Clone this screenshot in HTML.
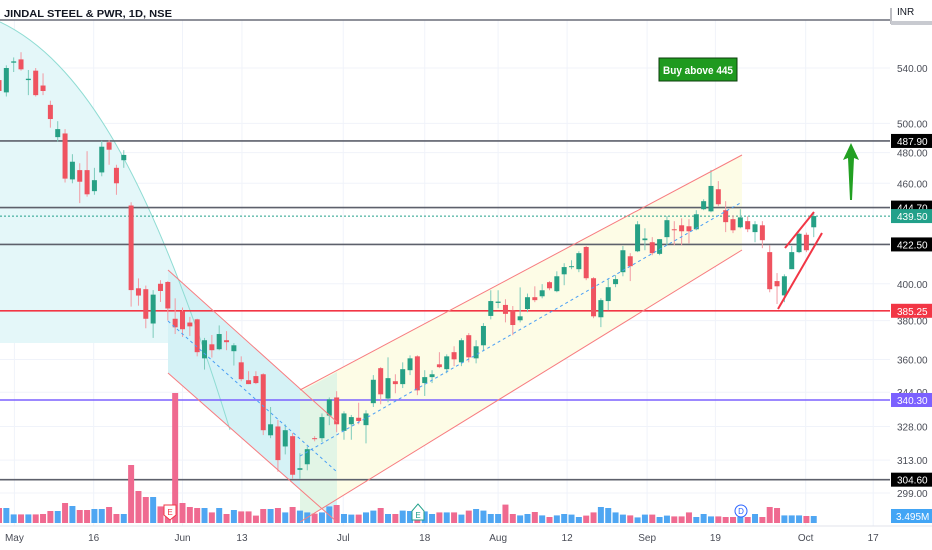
<!DOCTYPE html>
<html><head><meta charset="utf-8"><style>
html,body{margin:0;padding:0;background:#fff;}
svg{display:block;font-family:"Liberation Sans",sans-serif;}
</style></head><body>
<svg id="chart" width="932" height="550" viewBox="0 0 932 550" xmlns="http://www.w3.org/2000/svg">
<rect x="0" y="0" width="932" height="550" fill="#ffffff"/>
<g id="grid"></g>
<path d="M0,22 C80,60 150,170 230,430 L0,430 Z" fill="#e4f7f9" clip-path="url(#arcclip)"/>
<clipPath id="arcclip"><rect x="0" y="0" width="890" height="343"/></clipPath>
<polygon points="168,270 337,422 337,522 168,373" fill="#d5f2f6"/>
<polygon points="300,390 742,155 742,250 300,522" fill="#fdfce6"/>
<polygon points="300,392 337,372 337,500 300,522" fill="#e2f5e6"/>
<path d="M0,22 C80,60 150,170 230,430" fill="none" stroke="#8fdcd3" stroke-width="1"/>
<g id="hlines"></g>
<g id="vol"></g>
<g id="candles"></g>
<g>
<line x1="168" y1="270" x2="337" y2="422" stroke="#f77c80" stroke-width="1"/>
<line x1="168" y1="373" x2="337" y2="522" stroke="#f77c80" stroke-width="1"/>
<line x1="168" y1="321" x2="337" y2="472" stroke="#4a9ff5" stroke-width="1" stroke-dasharray="3,3"/>
</g>
<g>
<line x1="300" y1="390" x2="742" y2="155" stroke="#f77c80" stroke-width="1"/>
<line x1="300" y1="522" x2="742" y2="250" stroke="#f77c80" stroke-width="1"/>
<line x1="300" y1="456" x2="742" y2="202" stroke="#4a9ff5" stroke-width="1" stroke-dasharray="3,3"/>
</g>
<line x1="778" y1="309" x2="822" y2="233" stroke="#f23645" stroke-width="2"/>
<line x1="785" y1="248" x2="814" y2="212" stroke="#f23645" stroke-width="2"/>
<polygon points="851,143 859,160 854,158 852,200 850,200 848,158 843,160" fill="#22a022"/>
<g>
<rect x="659" y="58" width="78" height="23" fill="#1f9a1f" stroke="#0b3d0b" stroke-width="1"/>
<text x="698" y="74" text-anchor="middle" font-size="11" font-weight="bold" fill="#fff" textLength="70" lengthAdjust="spacingAndGlyphs">Buy above 445</text>
</g>
<text x="4" y="17" font-size="10" font-weight="bold" fill="#131722" textLength="168" lengthAdjust="spacingAndGlyphs">JINDAL STEEL &amp; PWR, 1D, NSE</text>
<g id="axis"></g>
<g id="taxis"></g>
<g>
<g><path d="M164,505 L176,505 L176,515 L170,520 L164,515 Z" fill="#fff" stroke="#f23645"/><text x="170" y="515" text-anchor="middle" font-size="8" fill="#f23645">E</text></g>
<g><path d="M412,511 L418,504 L424,511 L424,520 L412,520 Z" fill="#fff" stroke="#22a08a"/><text x="418" y="518" text-anchor="middle" font-size="8" fill="#22a08a">E</text></g>
<g><circle cx="741" cy="511" r="6" fill="#fff" stroke="#2962ff"/><text x="741" y="514" text-anchor="middle" font-size="8" fill="#2962ff">D</text></g>
</g>
</svg>
<script>
const opens=[531,522,544,546.5,531,538,527,513,490.5,493,462.5,468.5,468.5,455,467,487,470,475,446,397.5,397,378.5,400,401,381,385,379,380.7,360.6,367.7,365.2,369.8,364.2,358.6,349.8,351.8,352.7,324,328,319,323.6,308.8,311.2,322.7,322.7,333,341.5,326,329,332,328.6,338.8,355.7,341,349.3,347.9,354.7,361.6,348.4,351.3,357.6,355.2,363.7,358.6,372.4,360.6,367.2,382.5,389.5,388.4,385.6,380.2,386.2,392.6,393.1,400.9,395.9,405.3,409.4,408.2,421,403.1,381.8,390.5,399.8,406.5,415.6,418.5,425,423.8,417,426.8,431.5,433.9,433.3,431.5,443.7,442.4,456.2,443.1,437.6,432.7,436.4,429.8,433.9,418,401.5,393.6,408.2,418,428.2,432.7];
const highs=[534,542,548,552,538.5,540,536,516,501.5,496,479,473,481,470,488,488.5,472,481.7,448,403,399,396.5,402,401.5,392,387,382,381,371,372.5,377.5,374.5,368.3,361.6,354.2,354.2,353.2,337,331,329,325,316,319,323.6,334,341.5,344.5,335,333.3,339,335.5,352.3,356.2,361.1,352.7,358.6,362.1,362.1,354.7,354.7,363.7,362.6,366.7,370.8,373.5,369.8,378.7,396.4,396.4,391.5,387.8,398,394.6,398.6,399.8,401.5,407,411.6,413.3,418.5,421.6,403.7,392,402.6,404.8,421.6,417.4,436.4,432.1,426.8,425.6,439.5,436.4,438.1,437.6,443.1,449.9,468.6,461.4,448.7,440,443.7,439.3,436.4,436.4,422,406,405.3,421.6,429.5,429.5,441.2];
const lows=[519,519,537,538,520,519,520,497,487.5,460.5,460,447.5,451.5,452.7,464.5,472,452.7,470,387.5,388,376,371,390,380,373,371.5,372,361.6,355,361,364.7,364.7,357,349.3,347.9,347.9,324.1,322.7,308,315.5,305,305,308.6,321.3,321,328.6,325.4,322,322,329,320.4,337,338.3,339.2,343.5,346,352.3,342.6,342.2,348.4,355.7,353.2,356.7,356.7,358.6,358.1,364.2,380.7,386.6,379.1,372.4,379.1,384.5,389.9,392,396.4,395.3,399.2,408.2,406.5,402,381.3,376.6,385.6,398.1,404.2,401.5,418,419.1,416.2,416.2,422,422,422,423.2,430.9,443.1,441.8,445.6,429.8,429.2,432.1,429.8,423.8,420.3,395.3,388.9,389.9,408.2,417.4,418,426.8];
const closes=[523,540,545,539,532,520,523,503,496,463,474,461,453,462,484,482,460,478.5,396.5,393.5,381,394,396,386.5,376.5,375.5,377,363.7,369.8,364.7,373,368.8,367.2,350.3,347.9,348.4,326.3,329,313,326.3,306.7,309.5,317.8,322.3,332.3,340.6,329,334,332.3,330.5,334,350,343,350.8,347.9,355.2,360.6,344.9,351.3,352.7,356.2,361.6,360.1,369.8,361.1,366.7,377.2,390.5,390.2,383.6,377.7,382.3,392.6,391,396.4,397.5,404.2,409.4,409.9,417.4,403.1,382.3,391,398.1,402.6,419.1,409.9,434.5,426,417.4,425.6,437,430.9,430.3,430.3,440.6,448.7,458.3,446.8,435.8,430.9,438.7,431.5,434.5,425,397,398.6,404.2,418,428.8,419.1,439.5];
const volumes=[7.5,7.5,4.3,4.3,4.3,4.3,4.5,6,6,10,8.5,6.5,6.5,7,7,8,4.5,4.5,29,16,13,13,8.3,6,65,10,8,7.5,7.5,5.3,7.5,4.5,6.5,5.8,5.8,3.7,7,7,7.5,5.3,8,6.2,5.3,4.7,5.3,8.3,9,4.5,4.2,4.2,5.3,6.2,7.5,4.5,4.5,6.2,6,5.8,5.8,4.5,5.3,5.3,5.3,4.2,6.2,7,6.2,4.5,4.5,9.2,4.5,3.8,4.5,5.5,3.8,3,3.8,4.5,4.2,3,3.7,5.3,8,7.5,5.3,4.2,3.8,2.8,4.2,4.2,3,3.7,3.3,3.3,5.3,3,4.5,3.3,3.3,3,3,3,3,4.5,3,8,7.5,3.8,3.8,3.8,3.5,3.495];
const priceTicks=[540,500,480,460,400,380,360,344,328,313,299];
const timeLabels=["May","16","Jun","13","Jul","18","Aug","12","Sep","19","Oct","17"];
const timeIdx=[2.1,12.9,25,33.1,46.9,58,68,77.4,88.3,97.6,109.9,119.1];
const levelPrices=[487.90,444.70,439.50,422.50,385.25,340.30,304.60];
const levelColors=["#5d606b","#5d606b","#22a08a","#5d606b","#f23645","#7b61ff","#5d606b"];

const NS="http://www.w3.org/2000/svg";
function xs(i){return -1+i*7.34;}
function ys(p){return 68+719*Math.log(540/p);}
function yv(v){return 523-v*2;}
function mk(tag,attrs,parent){const e=document.createElementNS(NS,tag);for(const k in attrs)e.setAttribute(k,attrs[k]);parent.appendChild(e);return e;}
const grid=document.getElementById('grid');
priceTicks.forEach(p=>{
  const l=mk('line',{x1:0,x2:890,y1:ys(p),y2:ys(p),stroke:'#f0f3fa','stroke-width':1},grid);
  
  
});
timeIdx.forEach(t=>{
  const l=mk('line',{x1:xs(t),x2:xs(t),y1:20,y2:526,stroke:'#f0f3fa','stroke-width':1},grid);
  
  
});
const hl=document.getElementById('hlines');
const topLine=mk('line',{x1:0,x2:890,y1:20,y2:20,stroke:'#6a6d78','stroke-width':1.6},hl);


levelPrices.forEach((p,k)=>{
  const a={x1:0,x2:890,y1:ys(p),y2:ys(p),stroke:levelColors[k],'stroke-width':k==2?1:1.6};
  if(k==2)a['stroke-dasharray']='2,2';
  const l=mk('line',a,hl);
  
  
});
const vg=document.getElementById('vol');
volumes.forEach((v,i)=>{
  const up=closes[i]>=opens[i];
  const r=mk('rect',{x:xs(i)-3,y:yv(v),width:6,height:v*2,fill:up?'#4fa6f2':'#ef6a90'},vg);
  
  
});
const cg=document.getElementById('candles');
opens.forEach((o,i)=>{
  const c=closes[i],up=c>=o,col=up?'#26a085':'#ef5360';
  const x=xs(i);
  const w=mk('line',{x1:x,x2:x,y1:ys(highs[i]),y2:ys(lows[i]),stroke:up?'#7ccbbb':'#f29aa2','stroke-width':1},cg);
  
  
  const t=ys(Math.max(o,c)),b=ys(Math.min(o,c));
  const r=mk('rect',{x:x-2.5,y:t,width:5,height:Math.max(1,b-t),fill:col},cg);
  
  
});
const ax=document.getElementById('axis');
mk('line',{x1:891,x2:891,y1:8,y2:24,stroke:'#787b86'},ax);
mk('rect',{x:891,y:21,width:41,height:4,fill:'#c8cad0'},ax);
const inr=mk('text',{x:897,y:15,'font-size':10,fill:'#131722'},ax);inr.textContent='INR';


priceTicks.forEach(p=>{
  const t=mk('text',{x:897,y:ys(p)+4,'font-size':10,fill:'#4a4d57'},ax);
  t.textContent=p.toFixed(2);
  
  
});
levelPrices.forEach((p,k)=>{
  const y=ys(p);
  const bg=k==2?'#22a08a':(k==4?'#f23645':(k==5?'#7b61ff':'#000'));
  const r=mk('rect',{x:891,y:y-7,width:41,height:14,fill:bg},ax);
  
  
  const t=mk('text',{x:897,y:y+4,'font-size':10,fill:'#fff'},ax);
  t.textContent=p.toFixed(2);
  
  
});
const vb=mk('rect',{x:891,y:509,width:41,height:14,fill:'#42a5f5'},ax);


const vt=mk('text',{x:896,y:520,'font-size':10,fill:'#fff'},ax);vt.textContent='3.495M';


const tx=document.getElementById('taxis');
mk('line',{x1:0,x2:932,y1:526,y2:526,stroke:'#e0e3eb'},tx);
timeLabels.forEach((s,k)=>{
  const t=mk('text',{x:xs(timeIdx[k]),y:541,'font-size':10,fill:'#4a4d57','text-anchor':'middle'},tx);
  t.textContent=s;
  
  
});
</script>
</body></html>
